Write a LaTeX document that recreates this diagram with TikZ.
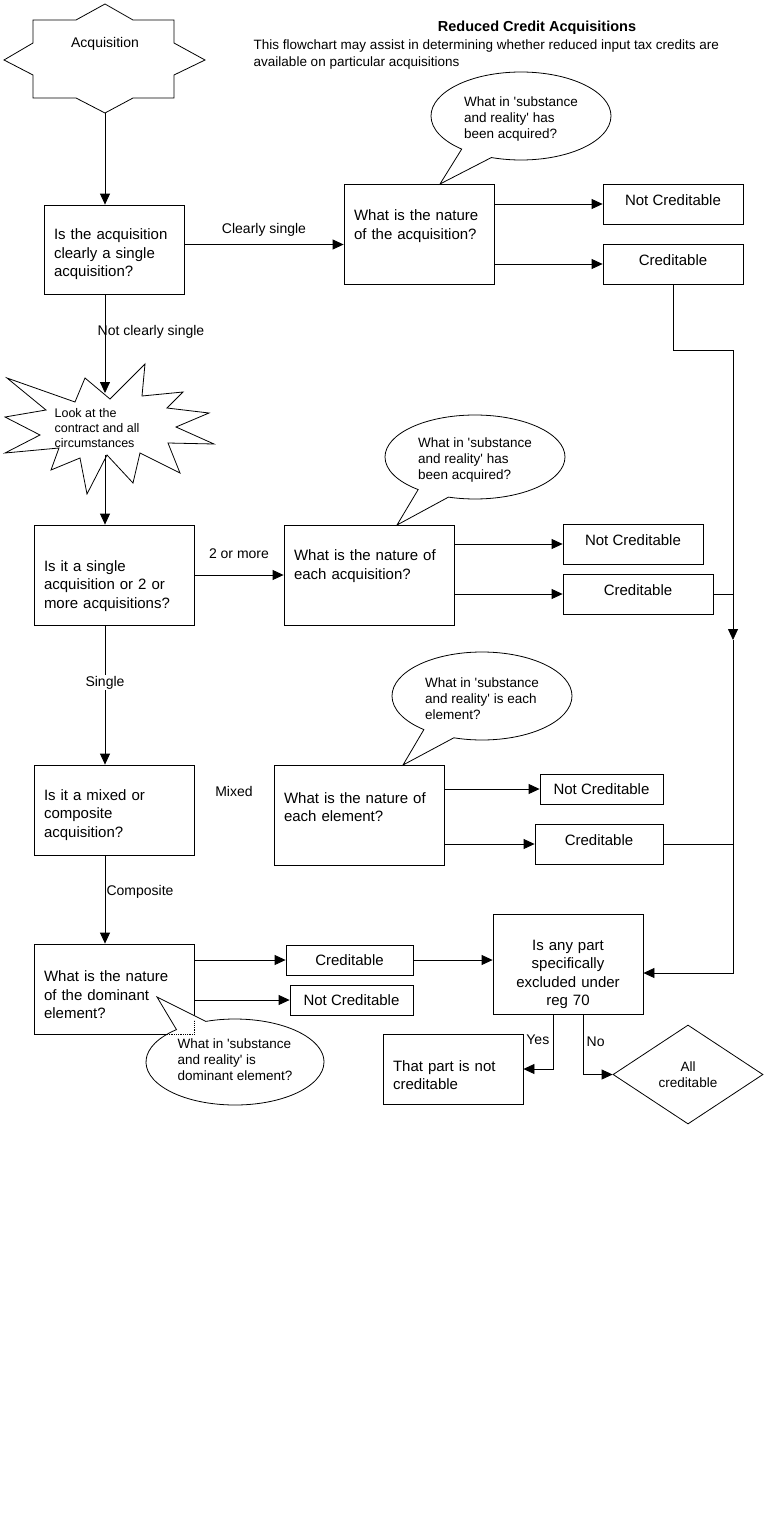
\documentclass[tikz,border=0pt]{standalone}
\usepackage{fontspec}
\setmainfont{Liberation Sans}
\usetikzlibrary{arrows.meta,shapes.geometric,shapes.callouts}

\begin{document}
\begin{tikzpicture}[x=1pt,y=-1pt,>={Triangle[length=11pt,width=10pt]},line width=0.8pt,
        flow box/.style={draw,rectangle,align=left,inner xsep=10pt,font=\fontsize{15}{18.5}\selectfont},
        small box/.style={draw,rectangle,inner sep=0pt,font=\fontsize{15}{18}\selectfont},
        bubble/.style={draw,ellipse callout,fill=white,align=left,callout pointer arc=22,text height=48pt,
            minimum width=180pt,minimum height=88pt,font=\fontsize{13.5}{16}\selectfont},
        edge label/.style={font=\fontsize{14}{16}\selectfont}]
    \useasboundingbox (0,0) rectangle (770,1520);
    % heading
    \node[font=\bfseries\fontsize{14.5}{17}\selectfont] (title) at (537,28) {Reduced Credit Acquisitions};
    \node[align=left,anchor=west,font=\fontsize{13.5}{17}\selectfont] (intro) at (250,54.5)
        {This flowchart may assist in determining whether reduced input tax credits are\\available on particular acquisitions};
    % start
    \draw (33,20) -- (76,20) -- (105,4) -- (133,20) -- (174,20) -- (174,43) -- (205,60) -- (174,75)
        -- (174,98) -- (133,98) -- (105,113) -- (76,98) -- (33,98) -- (33,75) -- (4,60) -- (33,43) -- cycle;
    \node[font=\fontsize{14}{16}\selectfont] (acq) at (105,44) {Acquisition};
    \coordinate (acqtip) at (105,113);
    % look at the contract
    \draw (7,378) -- (75,402) -- (85,378) -- (110,399) -- (145,364) -- (142,396) -- (183,392) -- (167,408)
        -- (209,413) -- (176,427) -- (214,444) -- (168,443) -- (180,473) -- (140,453) -- (133,483) -- (107,455)
        -- (87,494) -- (80,458) -- (51,470) -- (59,448) -- (5,453) -- (40,435) -- (5,417) -- (46,410) -- cycle;
    \node[align=left,font=\fontsize{12.5}{15}\selectfont] (look) at (97,428) {Look at the\\contract and all\\circumstances};
    \coordinate (lookin) at (105,393);
    \coordinate (lookout) at (105,455);
    % boxes
    \node[flow box,minimum width=140pt,text width=120pt,minimum height=89pt,text height=21pt] (single) at (114,249.5)
        {Is the acquisition\\clearly a single\\acquisition?};
    \node[flow box,minimum width=150pt,text width=130pt,minimum height=100pt,text depth=37.6pt] (nature1) at (419,234)
        {What is the nature\\of the acquisition?};
    \node[small box,minimum width=140pt,minimum height=40pt,text depth=8pt] (notcr1) at (673,204) {Not Creditable};
    \node[small box,minimum width=140pt,minimum height=40pt,text depth=8pt] (cred1) at (673,264) {Creditable};
    \node[flow box,minimum width=160pt,text width=140pt,minimum height=100pt,text height=33pt] (multi) at (114,575)
        {Is it a single\\acquisition or 2 or\\more acquisitions?};
    \node[flow box,minimum width=170pt,text width=150pt,minimum height=100pt,text depth=39.6pt] (nature2) at (369,575)
        {What is the nature of\\each acquisition?};
    \node[small box,minimum width=140pt,minimum height=40pt,text depth=8pt] (notcr2) at (633,544) {Not Creditable};
    \node[small box,minimum width=150pt,minimum height=40pt,text depth=8pt] (cred2) at (638,594) {Creditable};
    \node[flow box,minimum width=160pt,text width=140pt,minimum height=90pt,text height=21pt] (mixed) at (114,810)
        {Is it a mixed or\\composite\\acquisition?};
    \node[flow box,minimum width=170pt,text width=150pt,minimum height=100pt,text depth=34.7pt] (nature3) at (359,815)
        {What is the nature of\\each element?};
    \node[small box,minimum width=123pt,minimum height=30pt] (notcr3) at (601.5,789) {Not Creditable};
    \node[small box,minimum width=128pt,minimum height=40pt,text depth=8pt] (cred3) at (599,844) {Creditable};
    \node[flow box,minimum width=160pt,text width=140pt,minimum height=90pt,text height=23pt] (dominant) at (114,989)
        {What is the nature\\of the dominant\\element?};
    \node[small box,minimum width=127pt,minimum height=30pt] (cred4) at (349.5,960) {Creditable};
    \node[small box,minimum width=123pt,minimum height=30pt] (notcr4) at (351.5,1000) {Not Creditable};
    \node[flow box,align=center,minimum width=150pt,text width=130pt,minimum height=100pt,text height=31pt] (reg) at (568,964)
        {Is any part\\specifically\\excluded under\\reg 70};
    \node[flow box,minimum width=140pt,text width=120pt,minimum height=70pt,text height=23pt] (part) at (453,1069)
        {That part is not\\creditable};
    \node[draw,diamond,minimum width=150pt,minimum height=99pt,inner sep=0pt,align=center,
        font=\fontsize{13.5}{16}\selectfont] (all) at (688,1074.5) {All\\creditable};
    \node[edge label] (mixlbl) at (234,791) {Mixed};
    % callouts
    \coordinate (tip1) at (440,184);
    \coordinate (tip2) at (397,525);
    \coordinate (tip3) at (403,765);
    \coordinate (tip4) at (157,997);
    \node[bubble,callout absolute pointer=(tip1)] (think1) at (521,116)
        {What in \textquotesingle substance\\and reality\textquotesingle\ has\\been acquired?};
    \node[bubble,callout absolute pointer=(tip2),minimum height=84pt] (think2) at (475,457)
        {What in \textquotesingle substance\\and reality\textquotesingle\ has\\been acquired?};
    \node[bubble,callout absolute pointer=(tip3)] (think3) at (482,696)
        {What in \textquotesingle substance\\and reality\textquotesingle\ is each\\element?};
    \node[bubble,callout absolute pointer=(tip4),minimum width=178pt,minimum height=86pt,text height=38pt] (think4) at (235,1062)
        {What in \textquotesingle substance\\and reality\textquotesingle\ is\\dominant element?};
    \draw[densely dotted] (dominant.south east) ++(-31,0) -- (dominant.south east) -- ++(0,-14);
    % connectors
    \draw[->] (acqtip) -- (acqtip |- single.north);
    \draw[->] ([yshift=5pt]single.east) -- node[edge label,above=4pt] {Clearly single} ([yshift=5pt]single.east -| nature1.west);
    \draw[->] (nature1.east |- notcr1.west) -- (notcr1.west);
    \draw[->] (nature1.east |- cred1.west) -- (cred1.west);
    \draw[->] (acqtip |- single.south) -- node[edge label,pos=0.38,xshift=46pt] {Not clearly single} (lookin);
    \draw[->] (lookout) -- (lookout |- multi.north);
    \draw[->] (multi.east) -- node[edge label,above=13pt] {2 or more} (multi.east -| nature2.west);
    \draw[->] (nature2.east |- notcr2.west) -- (notcr2.west);
    \draw[->] (nature2.east |- cred2.west) -- (cred2.west);
    \draw[->] (acqtip |- multi.south) -- node[edge label,fill=white,inner sep=1pt,pos=0.41] {Single} (acqtip |- mixed.north);
    \draw[->] (nature3.east |- notcr3.west) -- (notcr3.west);
    \draw[->] (nature3.east |- cred3.west) -- (cred3.west);
    \draw[->] (acqtip |- mixed.south) -- node[edge label,fill=white,inner sep=1pt,pos=0.41,xshift=35pt] {Composite} (acqtip |- dominant.north);
    \draw[->] (dominant.east |- cred4.west) -- (cred4.west);
    \draw[->] (dominant.east |- notcr4.west) -- (notcr4.west);
    \draw[->] (cred4.east) -- (cred4.east -| reg.west);
    \coordinate (bend) at (733,350);
    \coordinate (merge) at (733,640);
    \coordinate (corner) at (733,973);
    \draw[->] (cred1.south) |- (bend) -- (merge);
    \draw[->] (merge) -- (corner) -- (corner -| reg.east);
    \draw (cred2.east) -- (cred2.east -| merge);
    \draw (cred3.east) -- (cred3.east -| merge);
    \draw[->] ([xshift=-15pt]reg.south) |- node[edge label,pos=0.23,left] {Yes} (part.east);
    \draw[->] ([xshift=15pt]reg.south) |- node[edge label,pos=0.23,right] {No} (all.west);
\end{tikzpicture}
\end{document}
